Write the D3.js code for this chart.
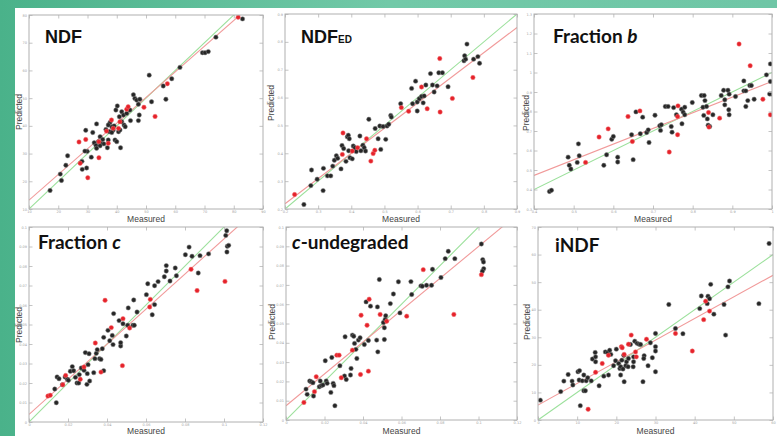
<!DOCTYPE html>
<html>
<head>
<meta charset="utf-8">
<script src="https://cdn.jsdelivr.net/npm/d3@7/dist/d3.min.js"></script>
<style>
  body { margin: 0; background: #fff; }
  svg { display: block; }
</style>
</head>
<body>
<div id="chart"></div>
<script>
'use strict';

// ---- data: [measured, predicted] ----
var ndfBlack = [[17.2,16.7],[20.7,22.6],[21.1,20.3],[22.6,25.8],[23.2,29.2],[29.4,38.4],[29.9,30.8],[29.1,30.9],
  [28.1,27.2],[28.2,24.3],[29.7,24.8],[31.3,28.7],[31.8,37.6],[33.1,40.7],[32.3,33.9],[32.9,32.9],[33.7,34.3],
  [34.3,36.1],[34.6,33.7],[36.8,32.1],[37.1,34.9],[37.7,41.2],[38.3,39.7],[38.8,38.5],[39.4,34.9],[40.0,34.3],
  [39.7,45.7],[40.2,47.2],[40.9,43.3],[41.3,32.1],[41.7,45.1],[42.3,43.9],[42.5,40.3],[42.9,39.7],[43.4,44.5],
  [44.5,45.7],[44.7,41.9],[45.7,51.2],[46.2,49.9],[46.8,49.3],[47.9,49.6],[47.4,47.8],[47.7,43.9],[47.4,41.9],
  [51.9,48.7],[51.1,58.3],[55.9,54.4],[56.8,49.6],[58.8,57.0],[61.6,61.1],[69.3,66.4],[70.2,66.4],[71.3,66.8],
  [73.9,72.0],[83.0,78.6],[36.3,38.7],[37.1,40.3],[37.5,37.9],[38.3,37.6],[39.1,40.0],[40.6,37.9],[41.1,38.5],
  [41.7,41.5],[35.2,35.1],[35.6,33.5],[34.3,32.8],[33.1,31.9]];
var ndfRed = [[27.1,34.2],[29.4,35.1],[27.5,26.5],[30.1,21.3],[33.9,28.5],[33.9,34.3],[36.5,38.1],[37.1,33.7],
  [38.2,42.1],[38.8,39.1],[40.6,39.1],[41.1,41.5],[43.4,46.0],[43.9,46.9],[49.3,46.7],[53.1,43.4],[57.3,55.2],
  [81.5,79.2]];

var ndfedBlack = [[0.257,0.216],[0.278,0.284],[0.280,0.340],[0.297,0.307],[0.315,0.266],[0.316,0.346],
  [0.328,0.319],[0.338,0.319],[0.344,0.354],[0.349,0.375],[0.355,0.391],[0.359,0.382],[0.369,0.344],
  [0.372,0.428],[0.377,0.417],[0.384,0.371],[0.388,0.459],[0.391,0.465],[0.394,0.452],[0.392,0.409],
  [0.396,0.384],[0.403,0.380],[0.406,0.426],[0.411,0.420],[0.415,0.406],[0.426,0.462],[0.429,0.409],
  [0.435,0.429],[0.439,0.420],[0.443,0.408],[0.453,0.522],[0.472,0.489],[0.481,0.452],[0.486,0.498],
  [0.489,0.414],[0.496,0.496],[0.504,0.450],[0.508,0.498],[0.513,0.504],[0.519,0.536],[0.521,0.530],
  [0.549,0.578],[0.582,0.633],[0.585,0.578],[0.594,0.659],[0.599,0.584],[0.599,0.552],[0.605,0.596],
  [0.612,0.604],[0.617,0.581],[0.620,0.606],[0.625,0.645],[0.639,0.686],[0.645,0.645],[0.650,0.620],
  [0.659,0.642],[0.664,0.689],[0.675,0.689],[0.692,0.639],[0.740,0.732],[0.742,0.750],[0.745,0.738],
  [0.749,0.792],[0.769,0.738],[0.782,0.747],[0.787,0.723]];
var ndfedRed = [[0.229,0.252],[0.375,0.473],[0.373,0.396],[0.403,0.408],[0.419,0.420],[0.446,0.452],
  [0.459,0.372],[0.466,0.399],[0.471,0.411],[0.551,0.564],[0.573,0.551],[0.612,0.638],[0.629,0.560],
  [0.667,0.740],[0.668,0.548],[0.705,0.597],[0.767,0.672]];

var fracBBlack = [[0.439,0.390],[0.444,0.396],[0.486,0.566],[0.489,0.524],[0.493,0.505],[0.512,0.634],
  [0.514,0.573],[0.509,0.539],[0.576,0.524],[0.583,0.578],[0.596,0.658],[0.600,0.672],[0.611,0.566],
  [0.611,0.541],[0.646,0.681],[0.650,0.553],[0.657,0.798],[0.674,0.771],[0.668,0.686],[0.684,0.692],
  [0.688,0.706],[0.690,0.641],[0.705,0.781],[0.717,0.727],[0.719,0.703],[0.721,0.732],[0.731,0.826],
  [0.738,0.826],[0.746,0.723],[0.748,0.694],[0.752,0.820],[0.759,0.783],[0.772,0.812],[0.773,0.737],
  [0.776,0.797],[0.780,0.822],[0.780,0.783],[0.799,0.846],[0.822,0.882],[0.826,0.822],[0.828,0.780],
  [0.829,0.882],[0.831,0.856],[0.835,0.826],[0.837,0.762],[0.839,0.730],[0.843,0.723],[0.851,0.783],
  [0.872,0.882],[0.878,0.909],[0.881,0.860],[0.881,0.834],[0.889,0.909],[0.892,0.889],[0.891,0.809],
  [0.892,0.783],[0.908,0.877],[0.929,0.957],[0.929,0.906],[0.934,0.826],[0.934,0.906],[0.939,0.856],
  [0.944,0.933],[0.948,0.933],[0.955,0.863],[0.986,0.988],[0.996,1.044],[0.996,0.954],[0.998,0.890],
  [0.994,0.890]];
var fracBRed = [[0.530,0.539],[0.564,0.669],[0.587,0.711],[0.637,0.774],[0.648,0.646],[0.667,0.803],
  [0.741,0.592],[0.762,0.681],[0.763,0.829],[0.762,0.774],[0.840,0.795],[0.841,0.720],[0.868,0.766],
  [0.917,1.146],[0.945,1.035],[0.977,0.863],[0.996,0.783]];

var fracCBlack = [[0.0140,0.0099],[0.0132,0.0169],[0.0144,0.0231],[0.0154,0.0222],[0.0171,0.0191],
  [0.0185,0.0231],[0.0197,0.0219],[0.0202,0.0214],[0.0212,0.0260],[0.0222,0.0284],[0.0229,0.0263],
  [0.0238,0.0229],[0.0246,0.0200],[0.0255,0.0200],[0.0258,0.0243],[0.0268,0.0277],[0.0282,0.0265],
  [0.0289,0.0356],[0.0297,0.0193],[0.0299,0.0248],[0.0303,0.0294],[0.0308,0.0350],[0.0311,0.0210],
  [0.0332,0.0253],[0.0338,0.0325],[0.0345,0.0352],[0.0350,0.0371],[0.0362,0.0325],[0.0369,0.0321],
  [0.0376,0.0376],[0.0383,0.0263],[0.0383,0.0434],[0.0405,0.0470],[0.0414,0.0417],[0.0427,0.0444],
  [0.0431,0.0397],[0.0434,0.0556],[0.0462,0.0520],[0.0470,0.0390],[0.0470,0.0407],[0.0482,0.0504],
  [0.0499,0.0441],[0.0506,0.0496],[0.0509,0.0585],[0.0533,0.0496],[0.0540,0.0496],[0.0537,0.0626],
  [0.0554,0.0564],[0.0602,0.0653],[0.0609,0.0709],[0.0632,0.0550],[0.0644,0.0602],[0.0644,0.0699],
  [0.0662,0.0720],[0.0694,0.0745],[0.0704,0.0774],[0.0704,0.0802],[0.0723,0.0723],[0.0750,0.0790],
  [0.0756,0.0750],[0.0802,0.0858],[0.0821,0.0897],[0.0836,0.0850],[0.0868,0.0764],[0.0877,0.0853],
  [0.0921,0.0862],[0.1009,0.0957],[0.1014,0.0981],[0.1015,0.0872],[0.1017,0.0901],[0.1024,0.0906]];
var fracCRed = [[0.0097,0.0133],[0.0109,0.0137],[0.0173,0.0191],[0.0188,0.0239],[0.0263,0.0219],
  [0.0282,0.0282],[0.0340,0.0405],[0.0369,0.0256],[0.0390,0.0624],[0.0422,0.0484],[0.0482,0.0530],
  [0.0479,0.0289],[0.0516,0.0482],[0.0619,0.0590],[0.0622,0.0629],[0.0831,0.0783],[0.0862,0.0674],
  [0.1005,0.0721]];

var cUndegBlack = [[0.0104,0.0160],[0.0110,0.0133],[0.0123,0.0202],[0.0131,0.0198],[0.0140,0.0193],
  [0.0143,0.0124],[0.0173,0.0172],[0.0178,0.0202],[0.0183,0.0178],[0.0192,0.0181],[0.0204,0.0307],
  [0.0209,0.0202],[0.0214,0.0190],[0.0233,0.0143],[0.0238,0.0324],[0.0245,0.0190],[0.0249,0.0178],
  [0.0254,0.0074],[0.0280,0.0281],[0.0304,0.0228],[0.0307,0.0431],[0.0313,0.0210],[0.0335,0.0233],
  [0.0338,0.0267],[0.0345,0.0440],[0.0352,0.0434],[0.0356,0.0397],[0.0363,0.0366],[0.0368,0.0319],
  [0.0376,0.0414],[0.0385,0.0426],[0.0407,0.0391],[0.0416,0.0612],[0.0428,0.0412],[0.0439,0.0590],
  [0.0471,0.0414],[0.0477,0.0353],[0.0475,0.0586],[0.0485,0.0728],[0.0506,0.0505],[0.0511,0.0417],
  [0.0511,0.0478],[0.0515,0.0521],[0.0518,0.0540],[0.0542,0.0603],[0.0558,0.0653],[0.0584,0.0716],
  [0.0592,0.0555],[0.0649,0.0717],[0.0653,0.0650],[0.0701,0.0695],[0.0708,0.0693],[0.0730,0.0698],
  [0.0756,0.0698],[0.0761,0.0781],[0.0805,0.0738],[0.0827,0.0836],[0.0843,0.0874],[0.0877,0.0836],
  [0.1015,0.0912],[0.1022,0.0831],[0.1026,0.0819],[0.1027,0.0784],[0.1020,0.0771]];
var cUndegRed = [[0.0093,0.0091],[0.0148,0.0147],[0.0157,0.0224],[0.0264,0.0336],[0.0276,0.0336],
  [0.0287,0.0219],[0.0345,0.0362],[0.0387,0.0236],[0.0390,0.0543],[0.0421,0.0491],[0.0428,0.0253],
  [0.0432,0.0626],[0.0489,0.0547],[0.0523,0.0512],[0.0627,0.0538],[0.0713,0.0779],[0.0872,0.0547],
  [0.1015,0.0753]];

var indfBlack = [[0.6,7.2],[5.8,10.3],[6.6,14.1],[7.7,16.5],[8.7,14.1],[8.9,12.7],[10.2,17.5],[10.6,17.9],
  [10.5,14.5],[10.8,5.2],[11.3,14.2],[11.7,16.3],[11.7,10.6],[12.1,10.6],[12.3,14.2],[12.7,15.3],[13.6,14.2],
  [13.9,22.1],[14.6,24.5],[14.7,21.1],[14.7,22.9],[15.6,12.4],[16.8,15.9],[17.2,24.7],[17.8,24.5],[18.3,25.3],
  [18.0,16.3],[18.6,23.8],[19.3,19.7],[19.8,21.5],[20.0,25.7],[20.6,20.5],[20.9,18.7],[21.1,16.3],[21.1,19.3],
  [21.4,21.7],[21.7,18.5],[21.9,23.5],[22.0,13.9],[22.4,19.7],[22.6,21.1],[23.0,19.3],[23.1,22.3],[23.6,27.4],
  [24.3,19.3],[24.4,21.1],[24.4,22.9],[24.7,28.6],[25.3,27.8],[25.8,27.5],[26.2,27.4],[26.8,13.9],[27.1,23.3],
  [27.0,22.3],[28.1,19.7],[28.7,28.0],[29.2,22.6],[30.0,31.4],[30.0,26.6],[30.0,25.0],[30.0,17.5],[33.4,41.9],
  [35.1,33.2],[37.0,31.3],[41.3,40.4],[41.7,45.0],[43.2,42.2],[43.4,44.9],[43.8,44.0],[44.1,49.2],[44.9,38.4],
  [47.5,41.9],[47.9,30.8],[48.5,48.3],[48.9,50.4],[56.4,42.2],[59.0,64.0]];
var indfRed = [[12.8,3.9],[14.7,17.3],[16.4,20.5],[18.0,23.5],[21.3,26.6],[21.5,26.2],[22.0,23.8],[23.1,27.5],
  [23.8,30.8],[24.9,24.7],[25.1,22.9],[27.7,29.3],[35.1,31.4],[39.4,25.0],[42.3,36.4],[42.8,43.1],[43.8,39.5]];

// tick values
var ndfTicksX = [10, 20, 30, 40, 50, 60, 70, 80, 90];
var ndfTicksY = [10, 20, 30, 40, 50, 60, 70, 80];
var ndfedTicks = [0.2, 0.3, 0.4, 0.5, 0.6, 0.7, 0.8, 0.9];
var fracBTicksX = [0.4, 0.5, 0.6, 0.7, 0.8, 0.9, 1.0];
var fracBTicksY = [0.3, 0.4, 0.5, 0.6, 0.7, 0.8, 0.9, 1.0, 1.1, 1.2, 1.3];
var smallTicksX = [0, 0.02, 0.04, 0.06, 0.08, 0.1, 0.12];
var smallTicksY = [0, 0.01, 0.02, 0.03, 0.04, 0.05, 0.06, 0.07, 0.08, 0.09, 0.1];
var indfTicksX = [0, 10, 20, 30, 40, 50, 60];
var indfTicksY = [0, 10, 20, 30, 40, 50, 60, 70];

// red regression line: [intercept, slope]
var ndfFit = [3.94, 0.926];
var ndfedFit = [0.038, 0.904];
var fracBFit = [0.151, 0.803];
var fracCFit = [0.0039, 0.90];
var cUndegFit = [0.0074, 0.825];
var indfFit = [5.4, 0.785];

var W = 777, H = 436;

var panels = [
  {id: 'p1', box: [29, 263, 15, 209], xd: [10, 90], yd: [10, 80], tx: ndfTicksX, ty: ndfTicksY,
   black: ndfBlack, red: ndfRed, fit: ndfFit, ylab: [19, 112], xlab: 222,
   title: [{t: 'NDF'}], tpos: [45, 43], tfont: 'arial'},
  {id: 'p2', box: [285, 517, 14, 209], xd: [0.2, 0.9], yd: [0.2, 0.9], tx: ndfedTicks, ty: ndfedTicks,
   black: ndfedBlack, red: ndfedRed, fit: ndfedFit, ylab: [271, 103], xlab: 222,
   title: [{t: 'NDF'}, {t: 'ED', small: true}], tpos: [301, 43], tfont: 'arial'},
  {id: 'p3', box: [534, 772, 14, 209], xd: [0.4, 1.0], yd: [0.3, 1.3], tx: fracBTicksX, ty: fracBTicksY,
   black: fracBBlack, red: fracBRed, fit: fracBFit, ylab: [526, 113], xlab: 222,
   title: [{t: 'Fraction '}, {t: 'b', it: true}], tpos: [553, 43], tfont: 'cal'},
  {id: 'p4', box: [29, 263, 227, 422], xd: [0, 0.12], yd: [0, 0.1], tx: smallTicksX, ty: smallTicksY,
   black: fracCBlack, red: fracCRed, fit: fracCFit, ylab: [19, 325], xlab: 434,
   title: [{t: 'Fraction '}, {t: 'c', it: true}], tpos: [38, 249], tfont: 'cal'},
  {id: 'p5', box: [286, 517, 227, 420], xd: [0, 0.12], yd: [0, 0.1], tx: smallTicksX, ty: smallTicksY,
   black: cUndegBlack, red: cUndegRed, fit: cUndegFit, ylab: [272, 322], xlab: 434,
   title: [{t: 'c', it: true}, {t: '-undegraded'}], tpos: [292, 249], tfont: 'cal'},
  {id: 'p6', box: [538, 773, 227, 420], xd: [0, 60], yd: [0, 70], tx: indfTicksX, ty: indfTicksY,
   black: indfBlack, red: indfRed, fit: indfFit, ylab: [527, 322], xlab: 434,
   title: [{t: 'iNDF'}], tpos: [555, 252], tfont: 'cal'}
];

var svg = d3.select('#chart').append('svg')
  .attr('width', W).attr('height', H);

var defs = svg.append('defs');
var grad = defs.append('linearGradient').attr('id', 'bg')
  .attr('x1', 0).attr('y1', 0).attr('x2', 1).attr('y2', 0);
grad.append('stop').attr('offset', '0%').attr('stop-color', '#4ab28a');
grad.append('stop').attr('offset', '50%').attr('stop-color', '#72c9a8');
grad.append('stop').attr('offset', '100%').attr('stop-color', '#6fc6a6');

svg.append('rect').attr('width', W).attr('height', H).attr('fill', 'url(#bg)');
svg.append('rect').attr('x', 15).attr('y', 8).attr('width', W - 15).attr('height', H - 8)
  .attr('fill', '#ffffff');

function fmt(v) {
  return d3.format('~g')(+v.toFixed(4));
}

panels.forEach(function (p) {
  var left = p.box[0], right = p.box[1], top = p.box[2], bottom = p.box[3];
  var x = d3.scaleLinear().domain(p.xd).range([left, right]);
  var y = d3.scaleLinear().domain(p.yd).range([bottom, top]);
  var g = svg.append('g').attr('class', 'panel');

  defs.append('clipPath').attr('id', 'clip-' + p.id)
    .append('rect').attr('x', left).attr('y', top)
    .attr('width', right - left).attr('height', bottom - top);

  var plot = g.append('g').attr('clip-path', 'url(#clip-' + p.id + ')');

  // 1:1 line
  plot.append('line')
    .attr('x1', x(p.xd[0])).attr('y1', y(p.xd[0]))
    .attr('x2', x(p.xd[1])).attr('y2', y(p.xd[1]))
    .attr('stroke', '#9be09b').attr('stroke-width', 1.1);
  // fitted line
  plot.append('line')
    .attr('x1', x(p.xd[0])).attr('y1', y(p.fit[0] + p.fit[1] * p.xd[0]))
    .attr('x2', x(p.xd[1])).attr('y2', y(p.fit[0] + p.fit[1] * p.xd[1]))
    .attr('stroke', '#f19a9a').attr('stroke-width', 1.1);

  plot.selectAll('.blk')
    .data(p.black)
    .enter()
    .append('circle')
    .attr('class', 'blk')
    .attr('cx', function (d) { return x(d[0]); })
    .attr('cy', function (d) { return y(d[1]); })
    .attr('r', 2.2)
    .attr('fill', '#262626')
    .attr('stroke', '#808080')
    .attr('stroke-width', 0.5);

  plot.selectAll('.red')
    .data(p.red)
    .enter()
    .append('circle')
    .attr('class', 'red')
    .attr('cx', function (d) { return x(d[0]); })
    .attr('cy', function (d) { return y(d[1]); })
    .attr('r', 2.2)
    .attr('fill', '#e5222b')
    .attr('stroke', '#f07070')
    .attr('stroke-width', 0.5);

  // axes: ticks pointing inward on all sides
  var ax = [
    g.append('g').attr('transform', 'translate(0,' + bottom + ')')
      .call(d3.axisBottom(x).tickValues(p.tx).tickSize(-3.5).tickPadding(1.5).tickFormat(fmt)),
    g.append('g').attr('transform', 'translate(0,' + top + ')')
      .call(d3.axisTop(x).tickValues(p.tx).tickSize(-3.5).tickFormat('')),
    g.append('g').attr('transform', 'translate(' + left + ',0)')
      .call(d3.axisLeft(y).tickValues(p.ty).tickSize(-3.5).tickPadding(2).tickFormat(fmt)),
    g.append('g').attr('transform', 'translate(' + right + ',0)')
      .call(d3.axisRight(y).tickValues(p.ty).tickSize(-3.5).tickFormat(''))
  ];
  ax.forEach(function (a) {
    a.select('.domain').remove();
    a.selectAll('line').attr('stroke', '#b5b5b5').attr('stroke-width', 0.8);
    a.selectAll('text').attr('fill', '#a0a0a0')
      .style('font-family', 'DejaVu Sans').style('font-size', '3.5px');
  });

  g.append('rect')
    .attr('x', left).attr('y', top)
    .attr('width', right - left).attr('height', bottom - top)
    .attr('fill', 'none').attr('stroke', '#b0b0b0').attr('stroke-width', 1);

  g.append('text')
    .attr('x', (left + right) / 2).attr('y', p.xlab)
    .attr('text-anchor', 'middle')
    .style('font-family', 'Liberation Sans').style('font-size', '8.5px')
    .attr('fill', '#444')
    .text('Measured');

  g.append('text')
    .attr('transform', 'translate(' + p.ylab[0] + ',' + p.ylab[1] + ') rotate(-90)')
    .attr('text-anchor', 'middle').attr('dy', '0.35em')
    .style('font-family', 'Liberation Sans').style('font-size', '8.5px')
    .attr('fill', '#444')
    .text('Predicted');

  var title = g.append('text')
    .attr('x', p.tpos[0]).attr('y', p.tpos[1])
    .attr('fill', '#111')
    .style('font-family', p.tfont === 'arial' ? 'Liberation Sans' : 'Lato')
    .style('font-weight', 'bold')
    .style('font-size', p.tfont === 'arial' ? '18px' : '19px');
  p.title.forEach(function (s) {
    var ts = title.append('tspan').text(s.t);
    if (s.small) ts.style('font-size', '10px');
    if (s.it) ts.style('font-style', 'italic');
  });
});
</script>
</body>
</html>
